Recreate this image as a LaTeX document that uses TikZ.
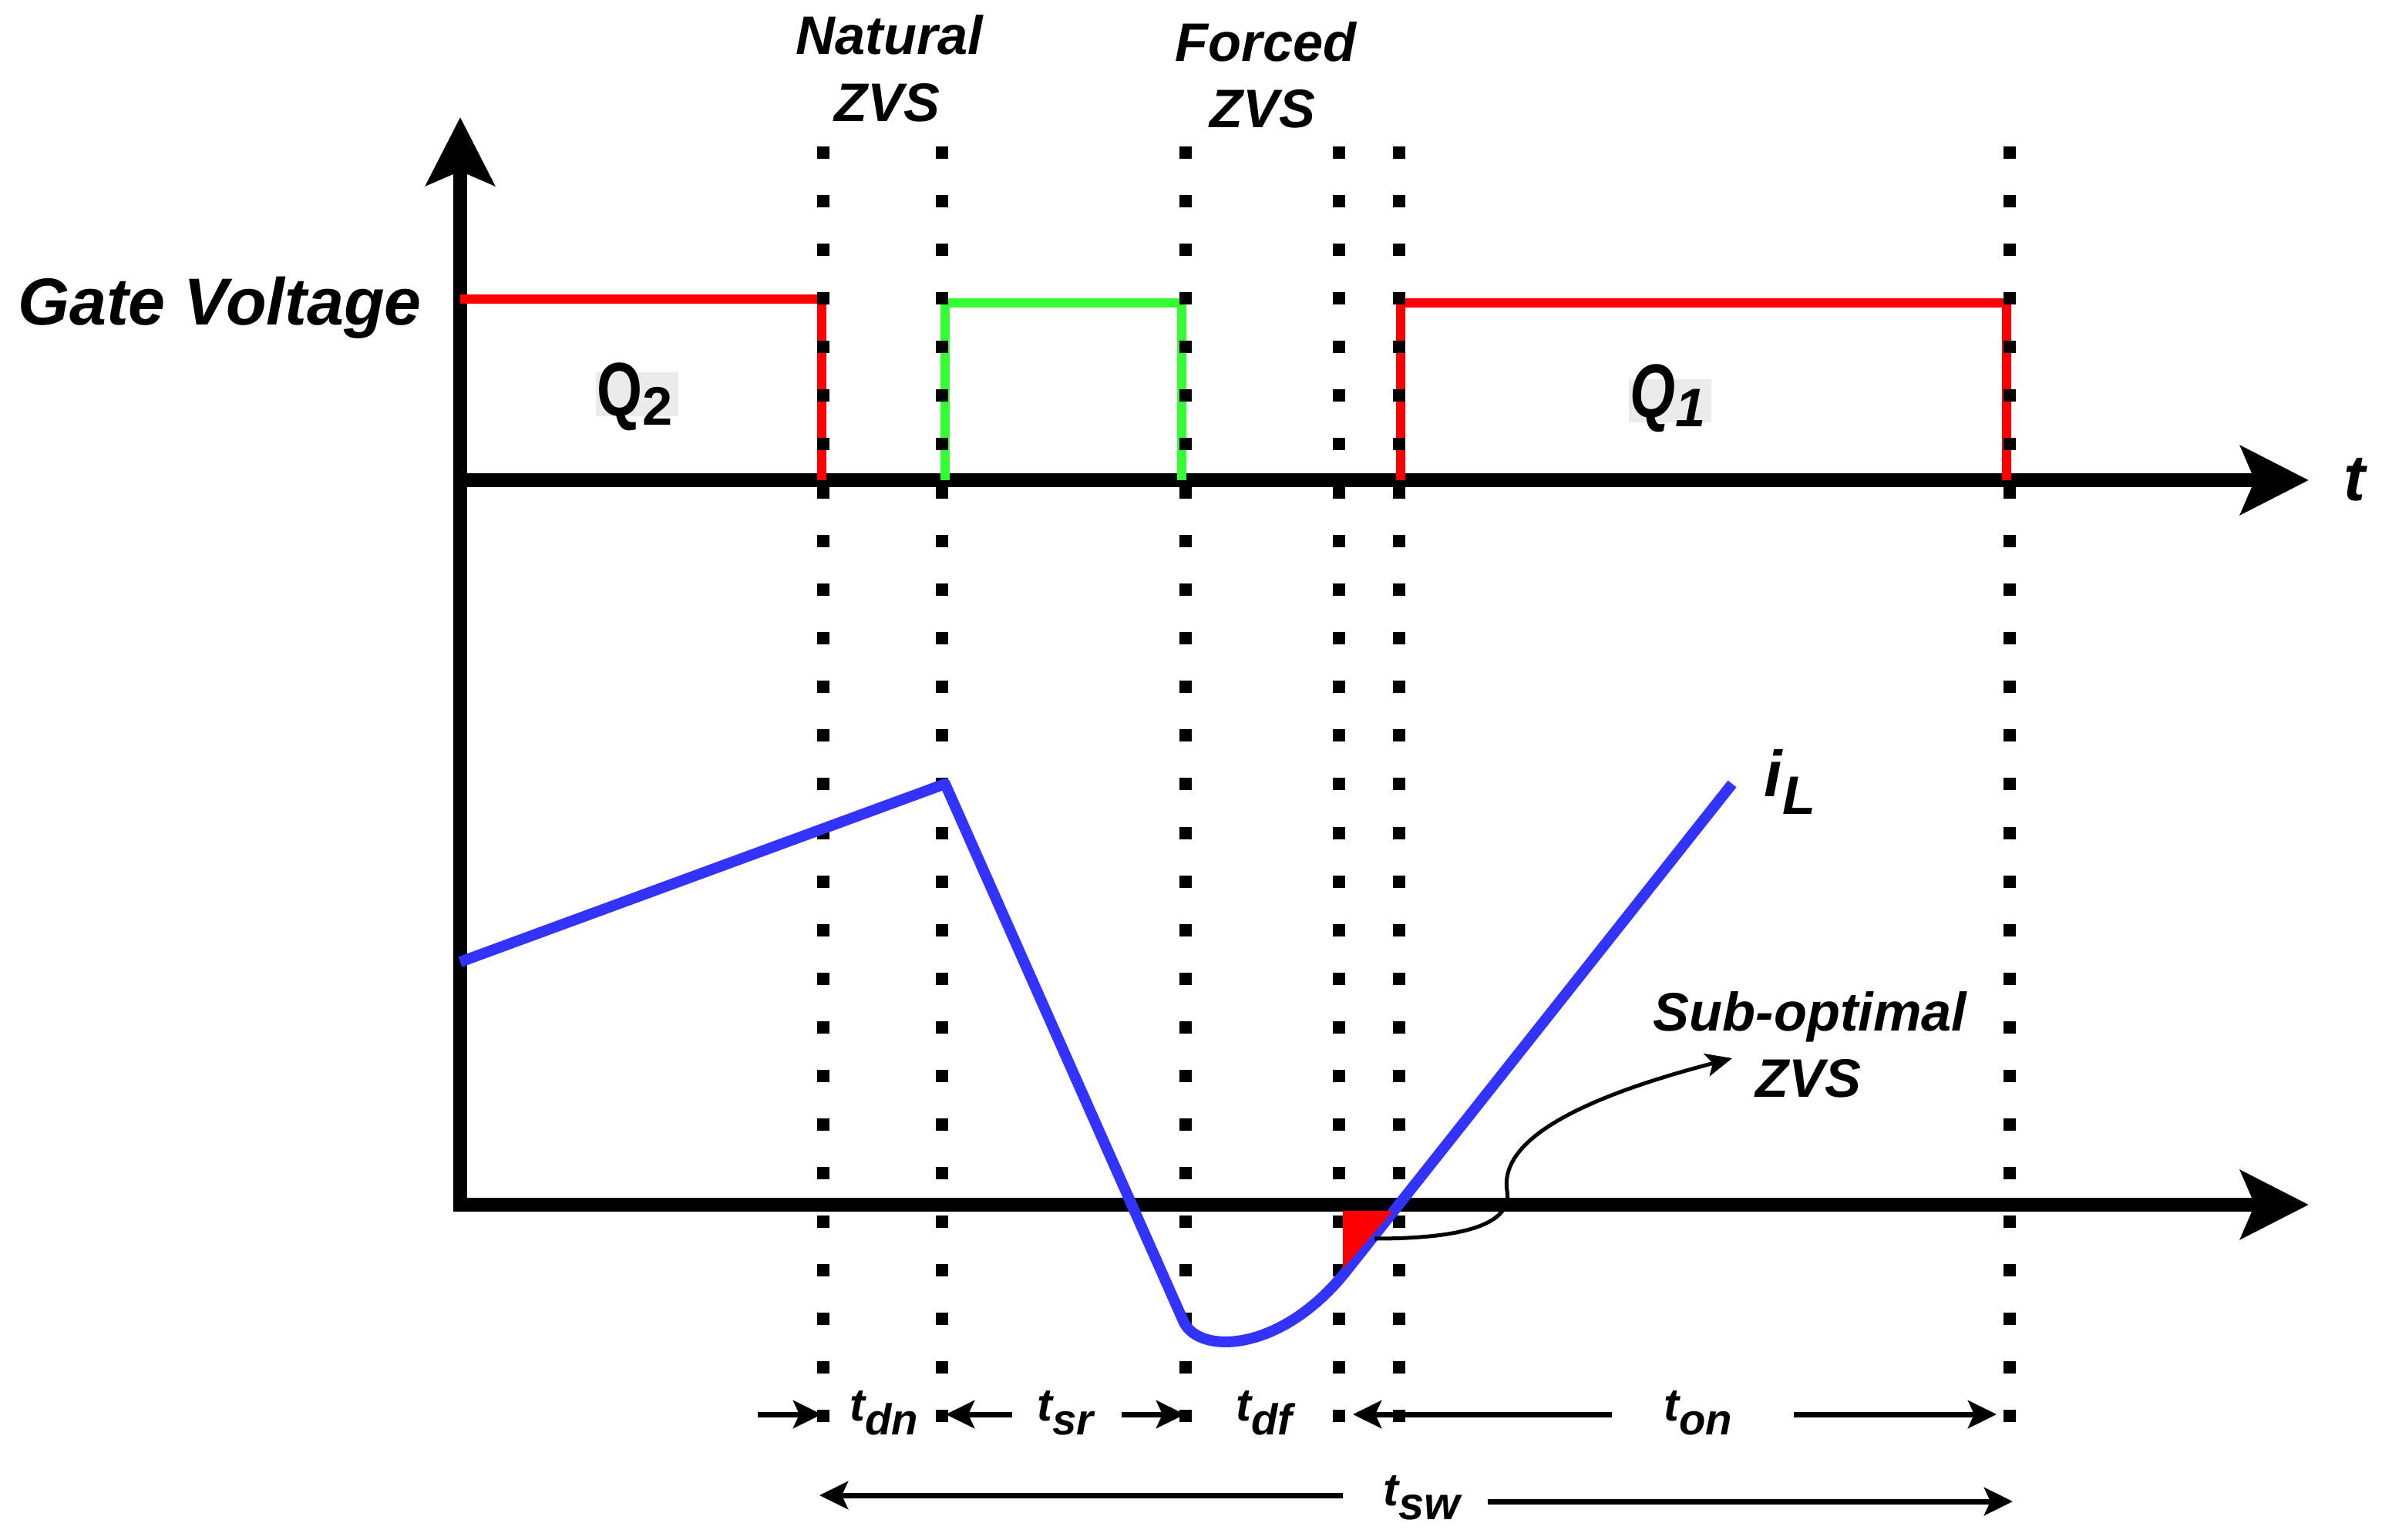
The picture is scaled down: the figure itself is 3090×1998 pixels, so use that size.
\documentclass[tikz,border=0pt]{standalone}
\usepackage{fontspec}
\setmainfont{Liberation Sans}
\usetikzlibrary{arrows.meta}
\definecolor{cred}{RGB}{255,0,0}
\definecolor{cgreen}{RGB}{51,255,51}
\definecolor{cblue}{RGB}{51,51,255}
\definecolor{cgray}{RGB}{235,235,235}
\newcommand{\myfs}[1]{\fontsize{#1}{#1}\selectfont}
\begin{document}
\begin{tikzpicture}[x=0.01cm,y=-0.01cm,
  axis/.style={line width=0.18cm,-{Stealth[length=0.88cm,width=0.88cm,inset=0.18cm]}},
  dotv/.style={line width=0.16cm,dash pattern=on 0.16cm off 0.47cm},
  gate/.style={line width=0.12cm},
  iline/.style={line width=0.14cm,cblue,line join=round},
  span/.style={line width=0.07cm,-{Stealth[length=0.37cm,width=0.36cm,inset=0.08cm]}},
  subarrow/.style={line width=0.05cm,-{Stealth[length=0.34cm,width=0.30cm,inset=0.08cm]}},
  lbl/.style={font=\bfseries\itshape\myfs{20pt},inner sep=0,anchor=base},
  tlab/.style={font=\bfseries\itshape\myfs{17pt},inner sep=0,anchor=base},
  qlab/.style={font=\bfseries\myfs{28pt},inner sep=0,anchor=base west}]
\useasboundingbox (0,0) rectangle (3090,1998);
% axes
\coordinate (o1) at (597,1572);
\coordinate (ytip) at (597,152);
\coordinate (t0) at (588,623);
\coordinate (ttip) at (2995,623);
\coordinate (b0) at (588,1563);
\coordinate (btip) at (2995,1563);
\draw[axis] (o1) -- (ytip);
\draw[axis] (t0) -- (ttip);
\draw[axis] (b0) -- (btip);
% gate signals
\draw[gate,cred] (597,388) -- (1066,388) -- (1066,623);
\draw[gate,cgreen] (1226,623) -- (1226,393) -- (1533,393) -- (1533,623);
\draw[gate,cred] (1817,623) -- (1817,393) -- (2603,393) -- (2603,623);
% dotted guides
\foreach \xx in {1068,1222,1538,1737,1815,2607}
  \draw[dotv] (\xx,190) -- (\xx,1845);
% inductor current
\draw[iline] (597,1248) -- (1226,1017) -- (1536,1716)
  .. controls (1557,1757) and (1660,1755) .. (1744,1652) -- (2247,1017);
\fill[cred] (1742,1571) -- (1807,1571) -- (1742,1646) -- cycle;
% labels
\node[font=\bfseries\itshape\myfs{24.5pt},inner sep=0,anchor=base] (gv) at (285,422) {Gate Voltage};
\node[lbl] (nat1) at (1154,71) {Natural};
\node[lbl] (nat2) at (1151,158) {ZVS};
\node[lbl] (for1) at (1642,80) {Forced};
\node[lbl] (for2) at (1638,166) {ZVS};
\node[lbl] (sub1) at (2348,1337) {Sub-optimal};
\node[lbl] (sub2) at (2346,1423) {ZVS};
\fill[cgray] (773,483) rectangle (880,540);
\node[qlab] (q2) at (774,540) {\scalebox{0.77}[1]{Q}\raisebox{-3.4pt}{\myfs{20pt}2}};
\fill[cgray] (2113,492) rectangle (2220,548);
\node[qlab,font=\bfseries\itshape\myfs{28pt}] (q1) at (2114,542) {\scalebox{0.77}[1]{Q}\raisebox{-3.4pt}{\myfs{20pt}1}};
\node[font=\bfseries\itshape\myfs{24pt},inner sep=0,anchor=base west] (tl) at (3040,650) {t};
\node[font=\bfseries\itshape\myfs{24pt},inner sep=0,anchor=base west] (il) at (2288,1034) {i\raisebox{-6.3pt}{\myfs{20pt}L}};
% sub-optimal arrow
\coordinate (s0) at (1783,1607);
\coordinate (s1) at (1955,1545);
\coordinate (s2) at (2247,1373);
\draw[subarrow] (s0) .. controls (1900,1607) and (1962,1588) .. (s1)
  .. controls (1948,1500) and (1990,1440) .. (s2);
% time spans
\node[tlab] (tdn) at (1147,1843) {t\raisebox{-5.4pt}{\myfs{16pt}dn}};
\node[tlab] (tsr) at (1382,1843) {t\raisebox{-5.4pt}{\myfs{16pt}sr}};
\node[tlab] (tdf) at (1640,1843) {t\raisebox{-5.4pt}{\myfs{16pt}df}};
\node[tlab] (ton) at (2203,1843) {t\raisebox{-5.4pt}{\myfs{16pt}on}};
\node[tlab] (tsw) at (1844,1953) {t\raisebox{-5.4pt}{\myfs{17pt}sw}};
\coordinate (a1s) at (983,1835);  \coordinate (a1e) at (1066,1835);
\coordinate (a2s) at (1313,1835); \coordinate (a2e) at (1227,1835);
\coordinate (a3s) at (1455,1835); \coordinate (a3e) at (1537,1835);
\coordinate (a4s) at (2091,1835); \coordinate (a4e) at (1755,1835);
\coordinate (a5s) at (2327,1835); \coordinate (a5e) at (2590,1835);
\coordinate (b1s) at (1742,1940); \coordinate (b1e) at (1063,1940);
\coordinate (b2s) at (1930,1948); \coordinate (b2e) at (2611,1948);
\draw[span] (a1s) -- (a1e);
\draw[span] (a2s) -- (a2e);
\draw[span] (a3s) -- (a3e);
\draw[span] (a4s) -- (a4e);
\draw[span] (a5s) -- (a5e);
\draw[span] (b1s) -- (b1e);
\draw[span] (b2s) -- (b2e);
\end{tikzpicture}
\end{document}
